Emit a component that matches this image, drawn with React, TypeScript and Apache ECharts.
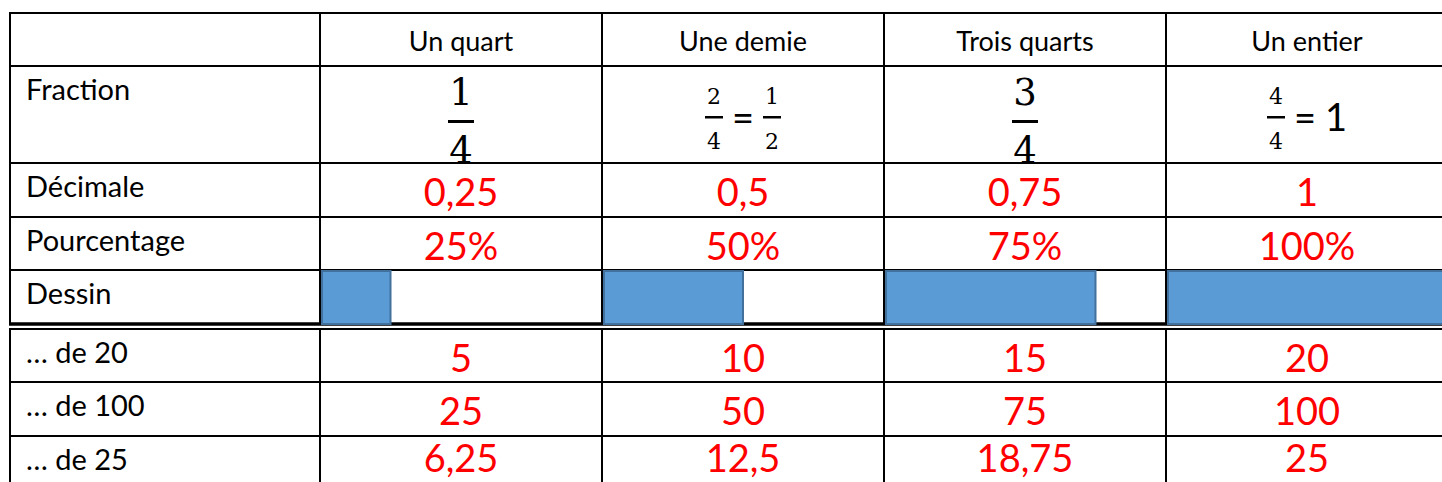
import React, { useEffect, useRef } from "react";
import * as echarts from "echarts";

// ---------- data ----------
const columnTitles = ["Un quart", "Une demie", "Trois quarts", "Un entier"];
const rowLabels = ["Fraction", "Décimale", "Pourcentage", "Dessin", "… de 20", "… de 100", "… de 25"];
const fractionNumerators = [1, 2, 3, 4];
const fractionDenominators = [4, 4, 4, 4];
const simplifiedNumerators = [0, 1, 0, 1];
const simplifiedDenominators = [0, 2, 0, 1];
const decimals = ["0,25", "0,5", "0,75", "1"];
const percentages = ["25%", "50%", "75%", "100%"];
const drawingShares = [0.25, 0.5, 0.75, 1];
const ofTwenty = ["5", "10", "15", "20"];
const ofHundred = ["25", "50", "75", "100"];
const ofTwentyFive = ["6,25", "12,5", "18,75", "25"];

// ---------- layout (sizes only) ----------
const COL_W = [310, 282, 282, 282, 282];
// rows: header, fraction, decimal, percent, drawing, (gap), of20, of100, of25
const ROW_H = [53, 97, 54, 53, 54, 5, 53, 54, 53];
const SANS = "Lato";
const SERIF = "DejaVu Serif";
const RED = "#ff0000";
const VIEW_W = 1432; // visible part of the table inside the page
const VIEW_H = 469;
const VALUE_FONT = 38;

const colEdges: number[] = [0];
COL_W.forEach((w) => colEdges.push(colEdges[colEdges.length - 1] + w));
const rowEdges: number[] = [0];
ROW_H.forEach((h) => rowEdges.push(rowEdges[rowEdges.length - 1] + h));

type Cell = { r: number; c: number };
const tableRows = [0, 1, 2, 3, 4, 6, 7, 8];
const cells: Cell[] = [];
tableRows.forEach((r) => {
  for (let c = 0; c < 5; c++) cells.push({ r, c });
});

const valueRows: Record<number, string[]> = {
  2: decimals,
  3: percentages,
  6: ofTwenty,
  7: ofHundred,
  8: ofTwentyFive,
};
const labelRowIndex: Record<number, number> = { 1: 0, 2: 1, 3: 2, 4: 3, 6: 4, 7: 5, 8: 6 };

function txt(x: number, y: number, text: string, size: number, family: string, fill = "#000", align = "center") {
  return {
    type: "text",
    x,
    y,
    style: { text, fill, fontSize: size, fontFamily: family, align, verticalAlign: "middle" },
  };
}

function fracEls(cx: number, top: number, num: number, den: number, big: boolean) {
  if (big) {
    return [
      txt(cx, top + 26, String(num), 37, SERIF),
      { type: "rect", shape: { x: cx - 13, y: top + 54, width: 26, height: 3 }, style: { fill: "#000" } },
      txt(cx, top + 84, String(den), 37, SERIF),
    ];
  }
  return [
    txt(cx, top + 30, String(num), 22, SERIF),
    { type: "rect", shape: { x: cx - 9, y: top + 50, width: 18, height: 2.5 }, style: { fill: "#000" } },
    txt(cx, top + 75, String(den), 22, SERIF),
  ];
}

export default function App() {
  const ref = useRef<HTMLDivElement>(null);
  useEffect(() => {
    document.body.style.margin = "0";
    const chart = echarts.init(ref.current!, null, { renderer: "svg" });
    const option: any = {
      animation: false,
      backgroundColor: "#ffffff",
      grid: { left: 10, top: 13, width: VIEW_W, height: VIEW_H, outerBoundsMode: "none", containLabel: false },
      xAxis: { type: "value", min: 0, max: VIEW_W, show: false },
      yAxis: { type: "value", min: 0, max: VIEW_H, inverse: true, show: false },
      series: [
        {
          type: "custom",
          clip: false,
          z: 2,
          data: cells.map((cell) => [colEdges[cell.c], rowEdges[cell.r], colEdges[cell.c + 1], rowEdges[cell.r + 1]]),
          renderItem: (params: any, api: any) => {
            const cell = cells[params.dataIndex];
            const p0 = api.coord([api.value(0), api.value(1)]);
            const p1 = api.coord([api.value(2), api.value(3)]);
            const viewBottom = api.coord([0, VIEW_H])[1];
            const w = p1[0] - p0[0];
            const h = p1[1] - p0[1];
            const cx = p0[0] + w / 2;
            const children: any[] = [
              {
                type: "rect",
                shape: { x: p0[0], y: p0[1], width: w, height: h },
                style: { fill: "none", stroke: "#000", lineWidth: 2 },
              },
            ];
            const { r, c } = cell;
            if (r === 4 && c === 0) {
              children.push({
                type: "line",
                shape: { x1: p0[0] - 1, y1: p1[1], x2: p0[0] + 1600, y2: p1[1] },
                style: { stroke: "#000", lineWidth: 3.5 },
              });
            }
            if (r === 0 && c > 0) {
              children.push(txt(cx, p0[1] + h / 2 + 1, columnTitles[c - 1], 27, SANS));
            } else if (c === 0 && r > 0) {
              children.push(txt(p0[0] + 16, p0[1] + 22, rowLabels[labelRowIndex[r]], 29, SANS, "#000", "left"));
            } else if (r === 1 && c > 0) {
              const i = c - 1;
              const sn = simplifiedNumerators[i];
              const sd = simplifiedDenominators[i];
              if (!sn) {
                children.push(...fracEls(cx, p0[1], fractionNumerators[i], fractionDenominators[i], true));
              } else if (sd === 1) {
                children.push(...fracEls(cx - 31, p0[1], fractionNumerators[i], fractionDenominators[i], false));
                children.push(txt(cx - 2, p0[1] + 51, "=", 38, SANS));
                children.push(txt(cx + 29, p0[1] + 50, String(sn), 38, SANS));
              } else {
                children.push(...fracEls(cx - 29, p0[1], fractionNumerators[i], fractionDenominators[i], false));
                children.push(txt(cx, p0[1] + 51, "=", 38, SANS));
                children.push(...fracEls(cx + 29, p0[1], sn, sd, false));
              }
            } else if (valueRows[r] && c > 0) {
              const y = Math.min(p0[1] + 28, viewBottom - 25);
              children.push(txt(cx, y, valueRows[r][c - 1], VALUE_FONT, SANS, RED));
            }
            return { type: "group", children };
          },
        },
        {
          type: "custom",
          clip: false,
          z: 5,
          data: drawingShares.map((s, i) => [colEdges[i + 1], rowEdges[4], s, rowEdges[5]]),
          renderItem: (params: any, api: any) => {
            const i = params.dataIndex;
            const x0 = api.value(0);
            const share = api.value(2);
            const p0 = api.coord([x0, api.value(1)]);
            const p1 = api.coord([x0 + share * COL_W[i + 1], api.value(3)]);
            return {
              type: "rect",
              shape: { x: p0[0] + 2, y: p0[1] + 1, width: p1[0] - p0[0] - 2, height: p1[1] - p0[1] - 1 },
              style: { fill: "#5b9bd5", stroke: "#41719c", lineWidth: 2 },
            };
          },
        },
      ],
    };
    chart.setOption(option);
    return () => chart.dispose();
  }, []);
  return <div ref={ref} style={{ width: 1442, height: 482 }} />;
}
